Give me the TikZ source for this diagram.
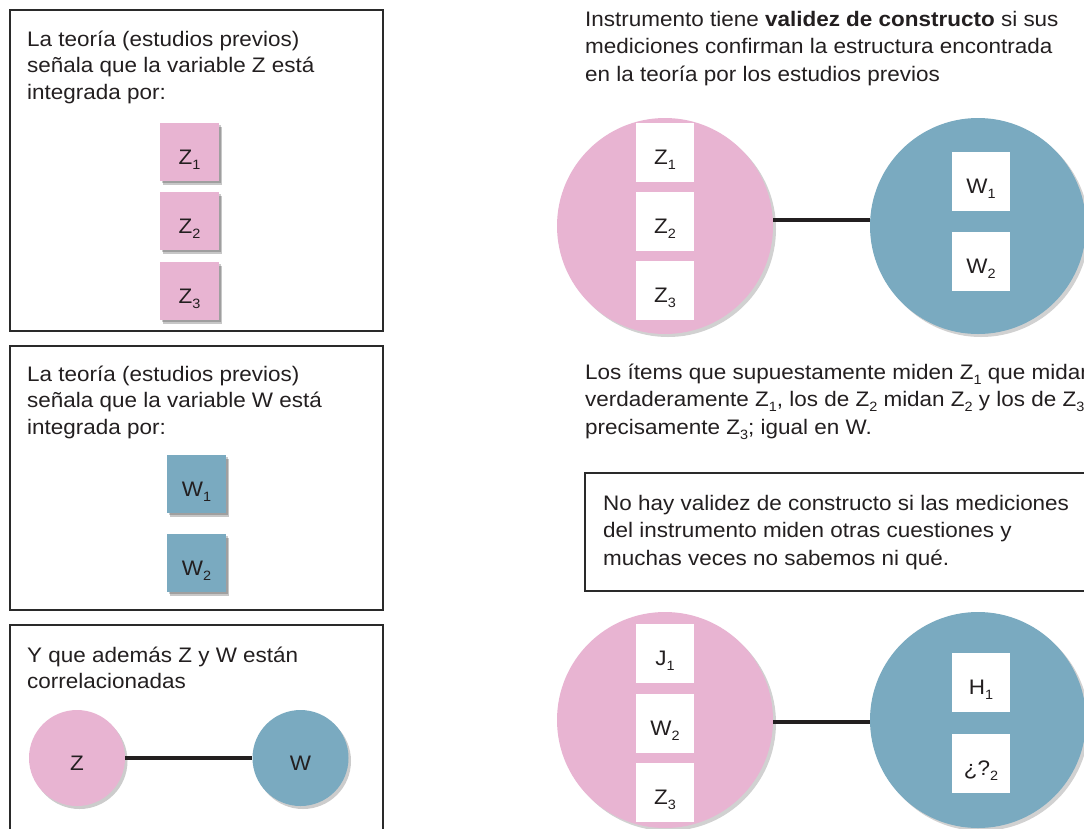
\documentclass[tikz,border=0pt]{standalone}
\usepackage{fontspec}
\setmainfont{Liberation Sans}[FakeStretch=1.07]
\usetikzlibrary{shadows}
\definecolor{zpink}{HTML}{E8B4D2}
\definecolor{wblue}{HTML}{7AAAC0}
\definecolor{ink}{HTML}{231F20}
\definecolor{framec}{HTML}{2A2A2A}
\newcommand\sbs[1]{\raisebox{-5pt}{\fontsize{13.5}{13.5}\selectfont #1}}
\newcommand\leftfont{\fontsize{21}{26.5}\selectfont}
\newcommand\rightfont{\fontsize{21}{27.5}\selectfont}
\newcommand\sqfont{\fontsize{21}{24}\selectfont}
\tikzset{
  panel/.style={draw=framec, line width=2.5pt, fill=none, inner sep=0pt},
  txtl/.style={text=ink, inner sep=0pt, anchor=base west, font=\leftfont},
  txtr/.style={text=ink, inner sep=0pt, anchor=base west, font=\rightfont},
  lbl/.style={text height=24pt, text depth=0pt},
  smallsq/.style={lbl, minimum width=59pt, minimum height=58pt, inner sep=0pt, text=ink, font=\sqfont,
    drop shadow={shadow xshift=2.5pt, shadow yshift=-3.5pt, opacity=0.22, fill=black},
    drop shadow={shadow xshift=1.5pt, shadow yshift=-2pt, opacity=0.2, fill=black}},
  whitesq/.style={lbl, fill=white, minimum width=58pt, minimum height=59pt, inner sep=0pt, text=ink, font=\sqfont},
  bigcirc/.style={circle, minimum size=216pt, inner sep=0pt,
    drop shadow={shadow xshift=3pt, shadow yshift=-3pt, opacity=0.18, fill=black}},
  smallcirc/.style={lbl, circle, minimum size=96pt, inner sep=0pt, text=ink, font=\sqfont,
    drop shadow={shadow xshift=2.5pt, shadow yshift=-3pt, opacity=0.2, fill=black}},
  conn/.style={draw=ink, line width=4pt},
}
\begin{document}
\begin{tikzpicture}[x=1pt,y=-1pt]
\fill[white] (0,0) rectangle (1084,828);
\useasboundingbox (0,0) rectangle (1084,828);
\clip (0,0) rectangle (1084,828);

% ---------- left column ----------
\node[panel, minimum width=373pt, minimum height=321pt] (box1) at (196.5,170.5) {};
\node[txtl] (t1) at (27,46) {\begin{tabular}[t]{@{}l@{}}La teoría (estudios previos)\\señala que la variable Z está\\integrada por:\end{tabular}};
\node[smallsq, fill=zpink] (lz1) at (189.5,152) {Z\sbs{1}};
\node[smallsq, fill=zpink] (lz2) at (189.5,221) {Z\sbs{2}};
\node[smallsq, fill=zpink] (lz3) at (189.5,291) {Z\sbs{3}};

\node[panel, minimum width=373pt, minimum height=264pt] (box2) at (196.5,478) {};
\node[txtl] (t2) at (27,381) {\begin{tabular}[t]{@{}l@{}}La teoría (estudios previos)\\señala que la variable W está\\integrada por:\end{tabular}};
\node[smallsq, fill=wblue] (lw1) at (196.5,484) {W\sbs{1}};
\node[smallsq, fill=wblue] (lw2) at (196.5,563) {W\sbs{2}};

\node[panel, minimum width=373pt, minimum height=275pt] (box3) at (196.5,762.5) {};
\node[txtl] (t3) at (27,662) {\begin{tabular}[t]{@{}l@{}}Y que además Z y W están\\correlacionadas\end{tabular}};
\node[smallcirc, fill=zpink] (cz) at (77,758) {Z};
\node[smallcirc, fill=wblue] (cw) at (300.5,758) {W};
\draw[conn, line width=3.3pt] (cz) -- (cw);

% ---------- right column, top ----------
\node[txtr] (t4) at (585,26) {\begin{tabular}[t]{@{}l@{}}Instrumento tiene \textbf{validez de constructo} si sus\\mediciones confirman la estructura encontrada\\en la teoría por los estudios previos\end{tabular}};
\node[bigcirc, fill=zpink] (pa) at (665,226) {};
\node[bigcirc, fill=wblue] (ba) at (978,226) {};
\draw[conn] (pa.3) -- (ba.177);
\node[whitesq] (az1) at (665,152.5) {Z\sbs{1}};
\node[whitesq] (az2) at (665,221.5) {Z\sbs{2}};
\node[whitesq] (az3) at (665,290.5) {Z\sbs{3}};
\node[whitesq] (aw1) at (981,181.5) {W\sbs{1}};
\node[whitesq] (aw2) at (981,261.5) {W\sbs{2}};

\node[txtr] (t5) at (585,379) {\begin{tabular}[t]{@{}l@{}}Los ítems que supuestamente miden Z\sbs{1} que midan\\verdaderamente Z\sbs{1}, los de Z\sbs{2} midan Z\sbs{2} y los de Z\sbs{3}\\precisamente Z\sbs{3}; igual en W.\end{tabular}};

\node[panel, minimum width=615pt, minimum height=118pt] (box4) at (892.5,532) {};
\node[txtr] (t6) at (603,510) {\begin{tabular}[t]{@{}l@{}}No hay validez de constructo si las mediciones\\del instrumento miden otras cuestiones y\\muchas veces no sabemos ni qué.\end{tabular}};

% ---------- right column, bottom ----------
\node[bigcirc, fill=zpink] (pb) at (665,720) {};
\node[bigcirc, fill=wblue] (bb) at (978,720) {};
\draw[conn] (pb.-1.3) -- (bb.181.3);
\node[whitesq] (bj1) at (665,653) {J\sbs{1}};
\node[whitesq] (bw2) at (665,723) {W\sbs{2}};
\node[whitesq] (bz3) at (665,792) {Z\sbs{3}};
\node[whitesq] (bh1) at (981,682.5) {H\sbs{1}};
\node[whitesq] (bq2) at (981,763.5) {¿?\sbs{2}};
\end{tikzpicture}
\end{document}
